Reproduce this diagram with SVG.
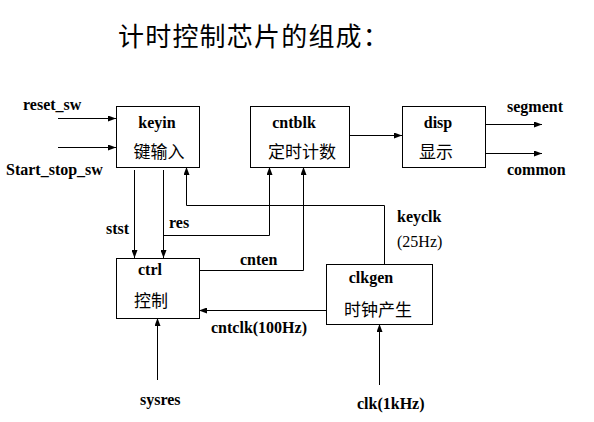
<svg xmlns="http://www.w3.org/2000/svg" width="594" height="422" viewBox="0 0 594 422">
<defs>
<marker id="ah" markerWidth="8" markerHeight="6" refX="8" refY="3" orient="auto" markerUnits="userSpaceOnUse">
<path d="M0,0 L8,3 L0,6 z" fill="#000"/>
</marker>
<style>
.box{fill:#fff;stroke:#000;stroke-width:1}
.lbl{font-family:"Liberation Serif","Times New Roman",serif;font-weight:bold;font-size:16px;fill:#000}
.nrm{font-family:"Liberation Serif","Times New Roman",serif;font-size:16px;fill:#000}
.cjk{font-family:"Noto Sans CJK SC","Liberation Sans",sans-serif;font-size:17px;fill:#000}
.ln{fill:none;stroke:#000;stroke-width:1}
.ar{fill:none;stroke:#000;stroke-width:1;marker-end:url(#ah)}
</style>
</defs>
<rect width="594" height="422" fill="#fff"/>
<text x="118" y="46" font-family="'Noto Sans CJK SC',sans-serif" font-size="26" letter-spacing="1.2">计时控制芯片的组成：</text>

<g id="keyin">
<rect class="box" x="116.5" y="106.5" width="83" height="61"/>
<text class="lbl" x="157" y="128" text-anchor="middle">keyin</text>
<text class="cjk" x="159" y="158" text-anchor="middle">键输入</text>
</g>
<g id="cntblk">
<rect class="box" x="250.5" y="106.5" width="99" height="61"/>
<text class="lbl" x="294" y="128" text-anchor="middle">cntblk</text>
<text class="cjk" x="302" y="158" text-anchor="middle">定时计数</text>
</g>
<g id="disp">
<rect class="box" x="402.5" y="106.5" width="83" height="61"/>
<text class="lbl" x="438" y="128" text-anchor="middle">disp</text>
<text class="cjk" x="436" y="158" text-anchor="middle">显示</text>
</g>
<g id="ctrl">
<rect class="box" x="116.5" y="258.5" width="83" height="60"/>
<text class="lbl" x="150" y="275" text-anchor="middle">ctrl</text>
<text class="cjk" x="151" y="307" text-anchor="middle">控制</text>
</g>
<g id="clkgen">
<rect class="box" x="326.5" y="264.5" width="106" height="60"/>
<text class="lbl" x="371" y="283" text-anchor="middle">clkgen</text>
<text class="cjk" x="378" y="316" text-anchor="middle">时钟产生</text>
</g>

<g id="connectors">
<line class="ar" x1="58" y1="118.5" x2="116" y2="118.5"/>
<line class="ar" x1="58" y1="147.5" x2="116" y2="147.5"/>
<line class="ar" x1="349" y1="135.5" x2="402" y2="135.5"/>
<line class="ar" x1="485" y1="124.5" x2="542" y2="124.5"/>
<line class="ar" x1="485" y1="153.5" x2="542" y2="153.5"/>
<line class="ar" x1="134.5" y1="170" x2="134.5" y2="258"/>
<line class="ar" x1="163.5" y1="170" x2="163.5" y2="258"/>
<polyline class="ar" points="163.5,235.5 269.5,235.5 269.5,167"/>
<polyline class="ar" points="384.5,264 384.5,205.5 186.5,205.5 186.5,167"/>
<polyline class="ar" points="199,270.5 303.5,270.5 303.5,167"/>
<line class="ar" x1="326" y1="310.5" x2="199" y2="310.5"/>
<line class="ar" x1="157.5" y1="380" x2="157.5" y2="318"/>
<line class="ar" x1="379.5" y1="385" x2="379.5" y2="324"/>
</g>

<text class="lbl" x="23" y="110">reset_sw</text>
<text class="lbl" x="6" y="175">Start_stop_sw</text>
<text class="lbl" x="507" y="112">segment</text>
<text class="lbl" x="507" y="175">common</text>
<text class="lbl" x="106" y="234">stst</text>
<text class="lbl" x="169" y="228">res</text>
<text class="lbl" x="240" y="265">cnten</text>
<text class="lbl" x="397" y="222">keyclk</text>
<text class="nrm" x="397" y="247">(25Hz)</text>
<text class="lbl" x="211" y="333">cntclk(100Hz)</text>
<text class="lbl" x="140" y="405">sysres</text>
<text class="lbl" x="357" y="409">clk(1kHz)</text>
</svg>
